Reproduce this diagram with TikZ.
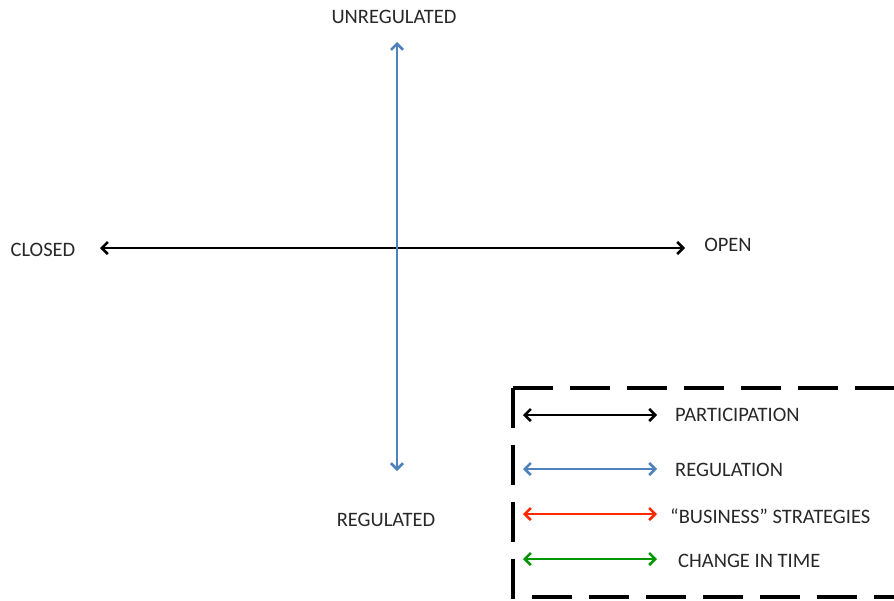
\documentclass[tikz,border=0pt]{standalone}
\usepackage{fontspec}
\setmainfont{Carlito}
\usetikzlibrary{arrows.meta}
\definecolor{axisblue}{RGB}{79,129,189}
\definecolor{legred}{RGB}{255,40,0}
\definecolor{leggreen}{RGB}{0,150,0}
\definecolor{txtgray}{RGB}{40,40,40}

\begin{document}
\begin{tikzpicture}[x=1pt,y=-1pt]
\tikzset{
	lbl/.style={text=txtgray, font=\fontsize{20.5}{24}\selectfont, inner sep=0pt},
	ax/.style={line width=2.6pt, {Straight Barb[length=6pt,width=12pt]}-{Straight Barb[length=6pt,width=12pt]}},
	legbox/.style={line width=4pt, dash pattern=on 40pt off 17pt}
}
\useasboundingbox (0,0) rectangle (894,600);

% axes
\coordinate (closed_end) at (100,248);
\coordinate (open_end) at (685,248);
\coordinate (unreg_end) at (397,42);
\coordinate (reg_end) at (397,471);
\draw[ax] (closed_end) -- (open_end);
\draw[ax, axisblue] (reg_end) -- (unreg_end);

% axis labels
\node[lbl] (unreg) at (394,17) {UNREGULATED};
\node[lbl] (reg) at (386,520) {REGULATED};
\node[lbl] (closed) at (43,250) {CLOSED};
\node[lbl] (open) at (728,245) {OPEN};

% legend box
\coordinate (box_tl) at (513,388);
\draw[legbox] (box_tl) -- (900,388);
\draw[legbox] (box_tl) -- (513,597) -- (900,597);

% legend arrows
\coordinate (l_1a) at (523,415);
\coordinate (l_1b) at (657,415);
\coordinate (l_2a) at (523,469);
\coordinate (l_2b) at (657,469);
\coordinate (l_3a) at (523,514);
\coordinate (l_3b) at (657,514);
\coordinate (l_4a) at (523,559);
\coordinate (l_4b) at (657,559);
\draw[ax] (l_1a) -- (l_1b);
\draw[ax, axisblue] (l_2a) -- (l_2b);
\draw[ax, legred] (l_3a) -- (l_3b);
\draw[ax, leggreen] (l_4a) -- (l_4b);

% legend labels
\node[lbl, anchor=west] (part) at (675,415) {PARTICIPATION};
\node[lbl, anchor=west] (regul) at (675,470) {REGULATION};
\node[lbl, anchor=west] (biz) at (670,516) {“BUSINESS” STRATEGIES};
\node[lbl, anchor=west] (change) at (678,561) {CHANGE IN TIME};

\end{tikzpicture}
\end{document}
